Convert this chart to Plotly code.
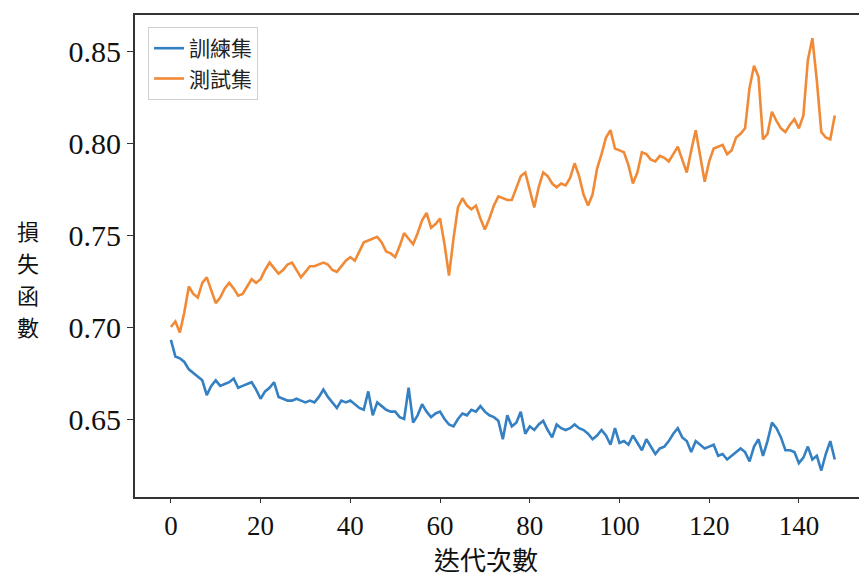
import plotly.graph_objects as go

epochs = list(range(149))

train_loss = [
    0.693, 0.684, 0.683, 0.681, 0.677, 0.675, 0.673, 0.671, 0.663, 0.668,
    0.671, 0.668, 0.669, 0.670, 0.672, 0.667, 0.668, 0.669, 0.670, 0.666,
    0.661, 0.665, 0.667, 0.670, 0.662, 0.661, 0.660, 0.660, 0.661, 0.660,
    0.659, 0.660, 0.659, 0.662, 0.666, 0.662, 0.659, 0.656, 0.660, 0.659,
    0.660, 0.658, 0.656, 0.655, 0.665, 0.652, 0.659, 0.657, 0.655, 0.654,
    0.654, 0.651, 0.650, 0.667, 0.648, 0.652, 0.658, 0.654, 0.651, 0.653,
    0.654, 0.650, 0.647, 0.646, 0.650, 0.653, 0.652, 0.655, 0.654, 0.657,
    0.654, 0.652, 0.651, 0.649, 0.639, 0.652, 0.646, 0.648, 0.654, 0.642,
    0.646, 0.644, 0.647, 0.649, 0.644, 0.640, 0.647, 0.645, 0.644, 0.645,
    0.647, 0.645, 0.644, 0.642, 0.639, 0.641, 0.644, 0.641, 0.636, 0.645,
    0.637, 0.638, 0.636, 0.641, 0.637, 0.633, 0.639, 0.635, 0.631, 0.634,
    0.635, 0.638, 0.642, 0.645, 0.640, 0.638, 0.632, 0.638, 0.636, 0.634,
    0.635, 0.636, 0.630, 0.631, 0.628, 0.630, 0.632, 0.634, 0.632, 0.627,
    0.635, 0.639, 0.630, 0.638, 0.648, 0.645, 0.640, 0.633, 0.633, 0.632,
    0.626, 0.629, 0.635, 0.628, 0.630, 0.622, 0.631, 0.638, 0.628,
]

test_loss = [
    0.700, 0.703, 0.697, 0.708, 0.722, 0.718, 0.716, 0.724, 0.727, 0.720,
    0.713, 0.716, 0.721, 0.724, 0.721, 0.717, 0.718, 0.722, 0.726, 0.724,
    0.726, 0.731, 0.735, 0.732, 0.729, 0.731, 0.734, 0.735, 0.731, 0.727,
    0.730, 0.733, 0.733, 0.734, 0.735, 0.734, 0.731, 0.730, 0.733, 0.736,
    0.738, 0.736, 0.741, 0.746, 0.747, 0.748, 0.749, 0.746, 0.741, 0.740,
    0.738, 0.744, 0.751, 0.748, 0.745, 0.751, 0.758, 0.762, 0.754, 0.756,
    0.759, 0.745, 0.728, 0.748, 0.765, 0.770, 0.766, 0.764, 0.766, 0.759,
    0.753, 0.759, 0.766, 0.771, 0.770, 0.769, 0.769, 0.775, 0.782, 0.784,
    0.774, 0.765, 0.776, 0.784, 0.782, 0.778, 0.776, 0.778, 0.777, 0.781,
    0.789, 0.782, 0.772, 0.766, 0.772, 0.786, 0.794, 0.803, 0.807, 0.797,
    0.796, 0.795, 0.788, 0.778, 0.784, 0.795, 0.794, 0.791, 0.790, 0.793,
    0.792, 0.790, 0.794, 0.798, 0.791, 0.784, 0.796, 0.807, 0.793, 0.779,
    0.790, 0.797, 0.798, 0.799, 0.794, 0.796, 0.803, 0.805, 0.808, 0.830,
    0.842, 0.836, 0.802, 0.805, 0.817, 0.812, 0.808, 0.806, 0.810, 0.813,
    0.808, 0.815, 0.845, 0.857, 0.834, 0.806, 0.803, 0.802, 0.815,
]

series_names = ["訓練集", "測試集"]
x_ticks = [0, 20, 40, 60, 80, 100, 120, 140]
y_ticks = [0.65, 0.70, 0.75, 0.80, 0.85]
y_tick_labels = ["0.65", "0.70", "0.75", "0.80", "0.85"]
x_title = "迭代次數"
y_title_chars = ["損", "失", "函", "數"]

SERIF = "Liberation Serif, Times New Roman, serif"
CJK = "Noto Sans CJK TC, Noto Sans CJK SC, sans-serif"

fig = go.Figure()
fig.add_trace(go.Scatter(x=epochs, y=train_loss, mode="lines", name=series_names[0],
                         line=dict(color="#3580c2", width=2.6)))
fig.add_trace(go.Scatter(x=epochs, y=test_loss, mode="lines", name=series_names[1],
                         line=dict(color="#f08a36", width=2.6)))

annotations = [
    dict(text=x_title, xref="paper", yref="paper",
         x=(486 - 135) / 724, y=-(558 - 497) / 482,
         xanchor="center", yanchor="middle", showarrow=False,
         font=dict(family=CJK, size=26, color="#111")),
]
for i, ch in enumerate(y_title_chars):
    annotations.append(dict(
        text=ch, xref="paper", yref="paper",
        x=(28 - 135) / 724, y=1 - (230 + 32 * i - 15) / 482,
        xanchor="center", yanchor="middle", showarrow=False,
        font=dict(family=CJK, size=22, color="#111")))

fig.update_layout(
    width=859, height=578,
    margin=dict(l=135, r=0, t=15, b=81),
    paper_bgcolor="white", plot_bgcolor="white",
    showlegend=True,
    legend=dict(x=0.018, y=0.975, xanchor="left", yanchor="top",
                bgcolor="rgba(255,255,255,0.9)", bordercolor="#d0d0d0", borderwidth=1,
                font=dict(family=CJK, size=21, color="#222"),
                itemwidth=30, tracegroupgap=0),
    xaxis=dict(range=[-8.0, 153.4], tickvals=x_ticks, ticks="outside", ticklen=4,
               tickcolor="#333", showline=True, linecolor="#333", linewidth=2,
               mirror=True, showgrid=False, zeroline=False,
               tickfont=dict(family=SERIF, size=27, color="#111")),
    yaxis=dict(range=[0.6076, 0.8696], tickvals=y_ticks, ticktext=y_tick_labels,
               ticks="outside", ticklen=6, tickcolor="#333", showline=True,
               linecolor="#333", linewidth=2, showgrid=False, zeroline=False,
               tickfont=dict(family=SERIF, size=30, color="#111")),
    annotations=annotations,
)

fig.write_html("out.html", config={"displayModeBar": False},
               post_script="document.body.style.margin='0';document.body.style.overflow='hidden';")
